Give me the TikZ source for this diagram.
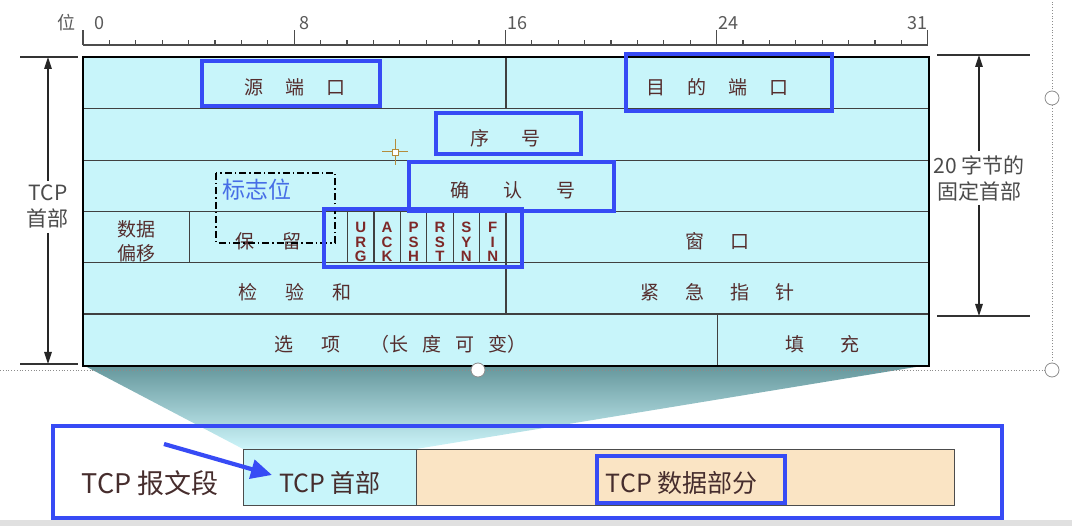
\documentclass[tikz,border=0pt]{standalone}
\usepackage{fontspec}
\setmainfont{Liberation Sans}
\newfontfamily\cjk{Noto Sans CJK SC}
\usepackage{tikz}
\usetikzlibrary{positioning, arrows.meta}
\definecolor{cellc}{RGB}{200,245,250}
\definecolor{txtc}{RGB}{85,45,45}
\definecolor{flagtxt}{RGB}{125,40,40}
\definecolor{hlblue}{RGB}{55,75,245}
\definecolor{dimgray}{RGB}{75,75,75}
\definecolor{wheat}{RGB}{250,228,196}
\definecolor{flagbl}{RGB}{70,110,230}
\definecolor{bartxt}{RGB}{70,45,45}
\newcommand{\cg}[1]{\hspace{#1pt}}
\tikzset{
  cellb/.style={draw=black!75, line width=1.1pt, fill=cellc, anchor=north west, inner sep=0pt,
    minimum height=51.3pt, text=txtc, font=\cjk\fontsize{19}{24}\selectfont},
  cell/.style={cellb, text height=23pt, text depth=0pt},
  flagc/.style={cellb, minimum width=26.4pt, align=center, text height=49pt, text=flagtxt,
    font=\bfseries\fontsize{15}{14.5}\selectfont},
  tframe/.style={draw=black, line width=2.6pt},
  hl/.style={draw=hlblue, line width=3.2pt},
  rtick/.style={draw=black!70, line width=1.1pt},
  rlab/.style={font=\cjk\fontsize{18}{20}\selectfont, text=black!65, inner sep=0pt},
  dimlab/.style={font=\cjk\fontsize{21}{26}\selectfont, text=dimgray, align=center, fill=white, inner sep=4pt},
  dimarr/.style={-{Triangle[length=12pt,width=7.5pt]}, line width=1.3pt, draw=black!85},
  dimtick/.style={line width=1.3pt, draw=black!80},
  barc/.style={draw=black!70, line width=1.2pt, anchor=north west, inner sep=0pt,
    minimum height=56pt, text=bartxt, font=\cjk\fontsize{25}{27}\selectfont,
    text height=29pt, text depth=0pt},
  blarr/.style={-{Triangle[length=21pt,width=19pt]}, line width=4.2pt, draw=hlblue},
  selln/.style={draw=black!45, line width=0.8pt, dotted},
  handle/.style={circle, draw=black!45, fill=white, line width=0.8pt, minimum size=14pt, inner sep=0pt}
}

\begin{document}
\begin{tikzpicture}[x=1pt, y=-1pt]
\useasboundingbox (0,0) rectangle (1072,526);
% ---------- ruler ----------
\draw[rtick] (83,45) -- (927.8,45);
\foreach \k in {0,...,32} \draw[rtick] (83+26.4*\k,45) -- ++(0,-5);
\foreach \k in {0,8,16,24,32} \draw[rtick] (83+26.4*\k,45) -- ++(0,-15);
\node[rlab] (wei) at (66,23) {位};
\node[rlab] (r0) at (99,23) {0};
\node[rlab] (r8) at (304,23) {8};
\node[rlab] (r16) at (517,23) {16};
\node[rlab] (r24) at (728,23) {24};
\node[rlab] (r31) at (917,23) {31};
% ---------- funnel to the segment bar ----------
\shade[top color={rgb,255:red,100;green,150;blue,155}, bottom color={rgb,255:red,205;green,245;blue,250}]
  (83,365) -- (928,365) -- (416,449) -- (243,449) -- cycle;
% ---------- header rows ----------
\node[cell, minimum width=422.4pt] (srcp) at (83,57) {源\cg{22}端\cg{22}口};
\node[cell, minimum width=422.4pt] (dstp) at (505.4,57) {目\cg{22}的\cg{22}端\cg{22}口};
\node[cell, minimum width=844.8pt] (seq) at (83,108.3) {序\cg{32}号};
\node[cell, minimum width=844.8pt] (ack) at (83,159.6) {\hspace{14pt}确\cg{34}认\cg{34}号};
\node[cellb, minimum width=105.6pt, align=center, text height=49pt] (off) at (83,210.9) {数据\\偏移};
\node[cell, minimum width=158.4pt] (rsv) at (188.6,210.9) {保\cg{28}留};
\foreach \fl [count=\i from 0] in {{U\\R\\G},{A\\C\\K},{P\\S\\H},{R\\S\\T},{S\\Y\\N},{F\\I\\N}}
  \node[flagc] (f\i) at (347+26.4*\i,210.9) {\fl};
\node[cell, minimum width=422.4pt] (win) at (505.4,210.9) {窗\cg{26}口};
\node[cell, minimum width=422.4pt] (chk) at (83,262.2) {检\cg{28}验\cg{28}和};
\node[cell, minimum width=422.4pt] (urgp) at (505.4,262.2) {紧\cg{26}急\cg{26}指\cg{26}针};
\node[cell, minimum width=633.6pt] (opt) at (83,313.5) {选\cg{28}项\cg{30}（长\cg{14}度\cg{14}可\cg{14}变）};
\node[cell, minimum width=211.2pt] (pad) at (716.6,313.5) {填\cg{36}充};
\draw[tframe] (srcp.north west) rectangle (pad.south east);
% ---------- flag bits note ----------
\draw[dash pattern=on 7pt off 3pt on 1.5pt off 3pt, line width=1.1pt] (216,173) rectangle (335,243);
\node[font=\cjk\fontsize{23}{25}\selectfont, text=flagbl, inner sep=0pt] (flaglab) at (257,190) {标志位};
% ---------- highlight boxes ----------
\draw[hl] (202,61) rectangle (380,106);
\draw[hl] (626,54) rectangle (832,111);
\draw[hl] (436,113) rectangle (581,154);
\draw[hl] (409,162) rectangle (614,211);
\draw[hl] (324,209) rectangle (522,267);
% ---------- dimensions ----------
\draw[dimtick] (20,57) -- (78,57);
\draw[dimtick] (20,364) -- (78,364);
\coordinate (lt) at (48,57);
\coordinate (lb) at (48,364);
\node[dimlab] (tcph) at (48,207) {TCP\\首部};
\draw[dimarr] (tcph) -- (lt);
\draw[dimarr] (tcph) -- (lb);
\draw[dimtick] (937,55) -- (1030,55);
\draw[dimtick] (937,316) -- (1030,316);
\coordinate (rt) at (979,55);
\coordinate (rb) at (979,316);
\node[dimlab] (fixh) at (979,178) {20 字节的\\固定首部};
\draw[dimarr] (fixh) -- (rt);
\draw[dimarr] (fixh) -- (rb);
% ---------- selection frame ----------
\draw[selln] (0,370) -- (1052,370) -- (1052,0);
\node[handle] (h1) at (478,370) {};
\node[handle] (h2) at (1052,98) {};
\node[handle] (h3) at (1052,370) {};
\draw[draw={rgb,255:red,180;green,140;blue,60}, line width=1pt] (382,152) -- (408,152) (395,139) -- (395,165);
\node[draw={rgb,255:red,180;green,140;blue,60}, fill=white, minimum size=6pt, inner sep=0pt, line width=0.9pt] (curs) at (395,152) {};
% ---------- segment bar ----------
\node[barc, fill=cellc, minimum width=173pt] (hdcell) at (243,449) {TCP 首部};
\node[barc, fill=wheat, minimum width=538pt] (datacell) at (416,449) {\hspace{-8pt}TCP 数据部分};
\node[font=\cjk\fontsize{27}{29}\selectfont, text=bartxt, inner sep=0pt] (seglab) at (150,483) {TCP 报文段};
\draw[hl] (597,456) rectangle (785,503);
\draw[hl] (53,426) rectangle (1002,518);
\coordinate (atail) at (164,444);
\coordinate (ahead) at (272,475);
\draw[blarr] (atail) -- (ahead);
\fill[black!12] (0,520) rectangle (1072,526);
\end{tikzpicture}
\end{document}
